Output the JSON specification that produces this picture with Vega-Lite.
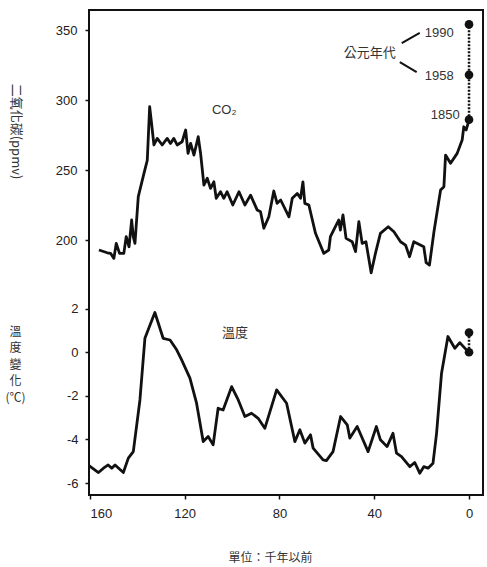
{
  "$schema": "https://vega.github.io/schema/vega-lite/v6.json",
  "width": 394,
  "height": 485,
  "autosize": {"type": "none"},
  "padding": {"left": 89, "top": 10, "right": 4, "bottom": 72},
  "background": "white",
  "config": {
    "view": {"stroke": "#111", "strokeWidth": 2},
    "font": "Liberation Sans",
    "axis": {
      "grid": false,
      "domain": false,
      "tickColor": "#111",
      "tickWidth": 1.5,
      "tickSize": 4,
      "labelFont": "Liberation Sans",
      "labelFontSize": 13,
      "labelColor": "#222",
      "titleFont": "Noto Sans CJK TC",
      "titleFontWeight": "normal",
      "titleFontSize": 12,
      "titleColor": "#333"
    }
  },
  "datasets": {
    "co2": [
      {"x": 156.2, "co2": 192.9}, {"x": 152.7, "co2": 190.9}, {"x": 151.3, "co2": 190.5}, {"x": 149.9, "co2": 186.9},
      {"x": 148.9, "co2": 197.6}, {"x": 147.5, "co2": 190.5}, {"x": 145.7, "co2": 190.5}, {"x": 144.7, "co2": 202.4},
      {"x": 143.5, "co2": 195.2}, {"x": 142.4, "co2": 214.3}, {"x": 141.7, "co2": 202.4}, {"x": 141.0, "co2": 197.6},
      {"x": 139.6, "co2": 231.0}, {"x": 137.2, "co2": 247.6}, {"x": 135.8, "co2": 257.0}, {"x": 134.8, "co2": 295.2},
      {"x": 134.0, "co2": 283.4}, {"x": 133.0, "co2": 267.9}, {"x": 131.6, "co2": 272.6}, {"x": 129.5, "co2": 267.9},
      {"x": 127.4, "co2": 272.6}, {"x": 126.0, "co2": 269.0}, {"x": 124.6, "co2": 272.6}, {"x": 123.2, "co2": 267.9},
      {"x": 121.1, "co2": 270.2}, {"x": 119.6, "co2": 278.6}, {"x": 118.6, "co2": 261.9}, {"x": 117.5, "co2": 269.0},
      {"x": 116.1, "co2": 260.7}, {"x": 114.3, "co2": 273.8}, {"x": 113.3, "co2": 261.9}, {"x": 111.9, "co2": 239.3},
      {"x": 110.5, "co2": 244.1}, {"x": 109.1, "co2": 236.9}, {"x": 107.7, "co2": 241.6}, {"x": 106.7, "co2": 229.8},
      {"x": 104.9, "co2": 234.5}, {"x": 103.5, "co2": 229.8}, {"x": 102.1, "co2": 234.5}, {"x": 99.7, "co2": 225.0},
      {"x": 97.1, "co2": 234.5}, {"x": 94.6, "co2": 225.0}, {"x": 92.2, "co2": 232.1}, {"x": 89.4, "co2": 221.4},
      {"x": 88.0, "co2": 220.2}, {"x": 86.6, "co2": 208.4}, {"x": 84.5, "co2": 216.6}, {"x": 82.4, "co2": 235.0},
      {"x": 81.0, "co2": 226.2}, {"x": 79.5, "co2": 228.6}, {"x": 76.0, "co2": 216.6}, {"x": 74.6, "co2": 229.8},
      {"x": 72.5, "co2": 233.3}, {"x": 71.1, "co2": 229.8}, {"x": 70.1, "co2": 241.6}, {"x": 69.3, "co2": 226.2},
      {"x": 67.6, "co2": 225.0}, {"x": 64.8, "co2": 204.8}, {"x": 61.3, "co2": 190.5}, {"x": 59.2, "co2": 192.9},
      {"x": 58.5, "co2": 202.4}, {"x": 56.4, "co2": 209.5}, {"x": 55.0, "co2": 214.3}, {"x": 54.3, "co2": 207.1},
      {"x": 53.2, "co2": 217.9}, {"x": 51.9, "co2": 201.2}, {"x": 49.3, "co2": 198.8}, {"x": 47.9, "co2": 191.7},
      {"x": 46.5, "co2": 213.1}, {"x": 45.1, "co2": 197.6}, {"x": 43.5, "co2": 198.8}, {"x": 41.3, "co2": 176.6},
      {"x": 39.5, "co2": 190.5}, {"x": 37.4, "co2": 204.8}, {"x": 34.1, "co2": 209.5}, {"x": 31.7, "co2": 205.9},
      {"x": 28.9, "co2": 198.8}, {"x": 26.8, "co2": 196.4}, {"x": 25.1, "co2": 188.1}, {"x": 23.3, "co2": 198.8},
      {"x": 19.1, "co2": 195.2}, {"x": 18.1, "co2": 183.8}, {"x": 16.7, "co2": 182.1}, {"x": 14.8, "co2": 205.9},
      {"x": 12.0, "co2": 235.7}, {"x": 10.6, "co2": 238.1}, {"x": 9.9, "co2": 260.7}, {"x": 7.8, "co2": 254.8},
      {"x": 5.0, "co2": 261.9}, {"x": 2.9, "co2": 271.4}, {"x": 2.2, "co2": 280.9}, {"x": 1.2, "co2": 278.6},
      {"x": 0, "co2": 285.7}
    ],
    "co2pts": [
      {"x": 0, "co2": 286, "year": 1850},
      {"x": 0, "co2": 318, "year": 1958},
      {"x": 0, "co2": 354, "year": 1990}
    ],
    "leaders": [
      {"x": 28.4, "co2": 340.7, "xe": 20.8, "co2e": 347.9},
      {"x": 29.2, "co2": 327.1, "xe": 22.1, "co2e": 320.0}
    ],
    "co2labels": [
      {"x": 41.9, "co2": 333.6, "label": "公元年代", "pos": "c"},
      {"x": 18.7, "co2": 347.9, "label": "1990", "pos": "l"},
      {"x": 18.7, "co2": 317.1, "label": "1958", "pos": "l"},
      {"x": 3.9, "co2": 289.3, "label": "1850", "pos": "r"},
      {"x": 108.5, "co2": 292.9, "label": "CO₂", "pos": "l"}
    ],
    "temp": [
      {"x": 160.4, "t": -5.2}, {"x": 156.4, "t": -5.52}, {"x": 154.3, "t": -5.32}, {"x": 152.3, "t": -5.17},
      {"x": 150.8, "t": -5.32}, {"x": 149.4, "t": -5.17}, {"x": 145.9, "t": -5.52}, {"x": 143.8, "t": -4.86},
      {"x": 141.7, "t": -4.56}, {"x": 138.9, "t": -2.19}, {"x": 136.8, "t": 0.64}, {"x": 132.6, "t": 1.82},
      {"x": 129.1, "t": 0.64}, {"x": 126.2, "t": 0.56}, {"x": 123.4, "t": 0.11}, {"x": 121.3, "t": -0.35},
      {"x": 117.8, "t": -1.19}, {"x": 115.0, "t": -2.34}, {"x": 112.2, "t": -4.1}, {"x": 110.1, "t": -3.87},
      {"x": 108.0, "t": -4.25}, {"x": 105.9, "t": -2.57}, {"x": 103.8, "t": -2.65}, {"x": 100.2, "t": -1.58},
      {"x": 97.4, "t": -2.19}, {"x": 94.6, "t": -2.95}, {"x": 91.8, "t": -2.8}, {"x": 89.0, "t": -3.03},
      {"x": 86.2, "t": -3.49}, {"x": 81.2, "t": -1.73}, {"x": 77.0, "t": -2.34}, {"x": 73.5, "t": -4.1},
      {"x": 71.4, "t": -3.56}, {"x": 69.3, "t": -4.17}, {"x": 66.9, "t": -3.79}, {"x": 65.8, "t": -4.4},
      {"x": 61.6, "t": -4.94}, {"x": 60.2, "t": -4.97}, {"x": 57.4, "t": -4.56}, {"x": 54.2, "t": -2.95},
      {"x": 51.4, "t": -3.33}, {"x": 50.3, "t": -3.94}, {"x": 47.2, "t": -3.41}, {"x": 42.6, "t": -4.56},
      {"x": 39.1, "t": -3.41}, {"x": 37.4, "t": -4.02}, {"x": 34.6, "t": -4.33}, {"x": 32.1, "t": -3.72},
      {"x": 30.6, "t": -4.63}, {"x": 28.5, "t": -4.79}, {"x": 25.0, "t": -5.25}, {"x": 22.9, "t": -5.06},
      {"x": 20.8, "t": -5.55}, {"x": 19.1, "t": -5.25}, {"x": 17.3, "t": -5.32}, {"x": 15.2, "t": -5.09},
      {"x": 13.7, "t": -3.72}, {"x": 11.6, "t": -0.96}, {"x": 8.9, "t": 0.72}, {"x": 6.0, "t": 0.18},
      {"x": 3.9, "t": 0.44}, {"x": 1.1, "t": 0.11}, {"x": 0, "t": 0}
    ],
    "temppts": [
      {"x": 0, "t": 0},
      {"x": 0, "t": 0.9}
    ],
    "templabels": [
      {"x": 104.3, "t": 0.89, "label": "溫度"}
    ]
  },
  "encoding": {
    "x": {
      "field": "x",
      "type": "quantitative",
      "scale": {"domain": [-5.9, 160.4], "reverse": true, "nice": false, "zero": false},
      "axis": {
        "values": [160, 120, 80, 40, 0],
        "labelPadding": 8,
        "title": "單位：千年以前",
        "titleX": 181,
        "titleY": 62,
        "titleBaseline": "middle",
        "titleAnchor": null,
        "titleAlign": "center",
        "titleFontSize": 12
      }
    }
  },
  "layer": [
    {
      "encoding": {
        "y": {
          "field": "co2",
          "type": "quantitative",
          "scale": {"domain": [17.9, 364.3], "nice": false, "zero": false},
          "axis": {
            "orient": "left",
            "values": [200, 250, 300, 350],
            "labelPadding": 8,
            "title": "二氧化碳(ppmv)",
            "titleAngle": 90,
            "titleFontSize": 13,
            "titleX": -74,
            "titleY": 121,
            "titleAlign": "center",
            "titleBaseline": "middle",
            "titleAnchor": null
          }
        }
      },
      "layer": [
        {
          "data": {"name": "co2"},
          "mark": {"type": "line", "color": "#111", "strokeWidth": 2.8, "strokeJoin": "round"}
        },
        {
          "data": {"name": "co2pts"},
          "mark": {"type": "line", "color": "#111", "strokeWidth": 2.5, "strokeDash": [2, 1.5]}
        },
        {
          "data": {"name": "co2pts"},
          "mark": {"type": "point", "filled": true, "color": "#111", "size": 75, "opacity": 1}
        },
        {
          "data": {"name": "leaders"},
          "mark": {"type": "rule", "color": "#111", "strokeWidth": 2},
          "encoding": {
            "x2": {"field": "xe"},
            "y2": {"field": "co2e"}
          }
        },
        {
          "data": {"name": "co2labels"},
          "transform": [{"filter": "datum.pos == 'c'"}],
          "mark": {"type": "text", "font": "Noto Sans CJK TC", "fontSize": 13, "color": "#333", "align": "center", "baseline": "middle"},
          "encoding": {"text": {"field": "label"}}
        },
        {
          "data": {"name": "co2labels"},
          "transform": [{"filter": "datum.pos == 'l'"}],
          "mark": {"type": "text", "font": "Liberation Sans", "fontSize": 13, "color": "#333", "align": "left", "baseline": "middle"},
          "encoding": {"text": {"field": "label"}}
        },
        {
          "data": {"name": "co2labels"},
          "transform": [{"filter": "datum.pos == 'r'"}],
          "mark": {"type": "text", "font": "Liberation Sans", "fontSize": 13, "color": "#333", "align": "right", "baseline": "middle"},
          "encoding": {"text": {"field": "label"}}
        }
      ]
    },
    {
      "encoding": {
        "y": {
          "field": "t",
          "type": "quantitative",
          "scale": {"domain": [-6.55, 15.7], "nice": false, "zero": false},
          "axis": {
            "orient": "left",
            "values": [-6, -4, -2, 0, 2],
            "labelExpr": "'' + datum.value",
            "labelPadding": 7,
            "title": ["溫", "度", "變", "化", "(℃)"],
            "titleAngle": 0,
            "titleFontSize": 12,
            "titleX": -74,
            "titleY": 316,
            "titleAlign": "center",
            "titleBaseline": "top",
            "titleLineHeight": 16.5,
            "titleAnchor": null
          }
        }
      },
      "layer": [
        {
          "data": {"name": "temp"},
          "mark": {"type": "line", "color": "#111", "strokeWidth": 2.8, "strokeJoin": "round"}
        },
        {
          "data": {"name": "temppts"},
          "mark": {"type": "line", "color": "#111", "strokeWidth": 2.5, "strokeDash": [2, 1.5]}
        },
        {
          "data": {"name": "temppts"},
          "mark": {"type": "point", "filled": true, "color": "#111", "size": 75, "opacity": 1}
        },
        {
          "data": {"name": "templabels"},
          "mark": {"type": "text", "font": "Noto Sans CJK TC", "fontSize": 13, "color": "#333", "align": "left", "baseline": "middle"},
          "encoding": {"text": {"field": "label"}}
        }
      ]
    }
  ],
  "resolve": {"scale": {"y": "independent"}}
}
